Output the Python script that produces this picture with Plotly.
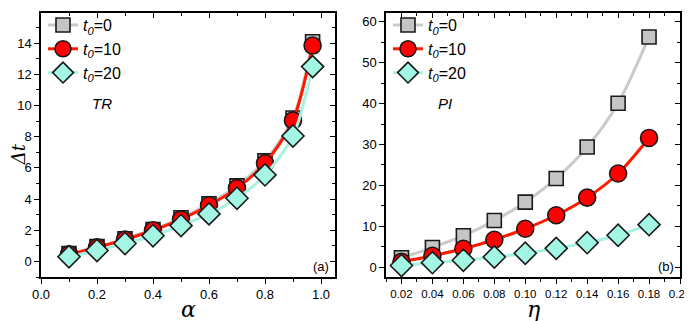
import plotly.graph_objects as go

alpha = [0.1, 0.2, 0.3, 0.4, 0.5, 0.6, 0.7, 0.8, 0.9, 0.97]
tr_t0_0 = [0.5, 0.95, 1.45, 2.05, 2.8, 3.7, 4.85, 6.45, 9.2, 14.1]
tr_t0_10 = [0.45, 0.9, 1.4, 2.0, 2.7, 3.6, 4.7, 6.3, 9.05, 13.85]
tr_t0_20 = [0.3, 0.7, 1.15, 1.65, 2.3, 3.05, 4.05, 5.55, 8.05, 12.5]

eta = [0.02, 0.04, 0.06, 0.08, 0.10, 0.12, 0.14, 0.16, 0.18]
pi_t0_0 = [2.3, 4.8, 7.7, 11.4, 15.9, 21.7, 29.4, 40.1, 56.3]
pi_t0_10 = [1.3, 2.8, 4.5, 6.7, 9.4, 12.7, 17.0, 22.9, 31.6]
pi_t0_20 = [0.4, 1.1, 1.7, 2.5, 3.4, 4.6, 6.0, 7.8, 10.4]

names = ["<i>t</i><sub><i>0</i></sub>=0", "<i>t</i><sub><i>0</i></sub>=10", "<i>t</i><sub><i>0</i></sub>=20"]

styles = [
    dict(line="#cacaca", fill="#c4c6c4", symbol="square", size=14),
    dict(line="#ff1a00", fill="#ff0000", symbol="circle", size=17),
    dict(line="#a8f2e2", fill="#a4f6e4", symbol="diamond", size=17),
]

FONT = "Liberation Sans, Arial, sans-serif"
SERIF = "DejaVu Serif, serif"

# page body has an 8px margin, so the figure is drawn 8px in from the window corner
OFF = 8
W, H = 692 - OFF, 321 - OFF
ML, MR, MT, MB = 41 - OFF, 12, 0, 44
PW, PH = W - ML - MR, H - MT - MB


def px(x):
    # screenshot x -> paper x
    return (x - OFF - ML) / PW


def py(y):
    # screenshot y -> paper y
    return 1 - (y - OFF - MT) / PH


x_range_l = [0, 1.05]
y_range_l = [-1, 15.94]
x_range_r = [0.01, 0.20]
y_range_r = [-2.4, 62.15]

fig = go.Figure()


def add_series(x, ys, xa, ya, legend):
    for name, y, st in zip(names, ys, styles):
        fig.add_trace(go.Scatter(
            x=x, y=y, name=name, mode="lines+markers",
            line=dict(color=st["line"], width=3, shape="spline", smoothing=0.8),
            marker=dict(symbol=st["symbol"], size=st["size"], color=st["fill"],
                        line=dict(color="#1a1a1a", width=1.6)),
            xaxis=xa, yaxis=ya, legend=legend))


add_series(alpha, [tr_t0_0, tr_t0_10, tr_t0_20], "x", "y", "legend")
add_series(eta, [pi_t0_0, pi_t0_10, pi_t0_20], "x2", "y2", "legend2")

dom_l = [px(41), px(335)]
dom_r = [px(386), px(680)]


def main_axis(rng, dtick, minor_dtick, font_size=13, **kw):
    return dict(range=rng, autorange=False, automargin=False, dtick=dtick, showgrid=False,
                zeroline=False, showline=True, linecolor="black", linewidth=1.5,
                ticks="outside", ticklen=5, tickwidth=1.3, tickcolor="black",
                tickfont=dict(family=FONT, size=font_size, color="black"),
                minor=dict(ticks="outside", ticklen=3, dtick=minor_dtick, tickcolor="black"),
                **kw)


def mirror_axis(rng, dtick, minor_dtick, **kw):
    return dict(range=rng, autorange=False, automargin=False, dtick=dtick, showgrid=False,
                zeroline=False, showline=True, linecolor="black", linewidth=1.5,
                ticks="inside", ticklen=5, tickwidth=1.3, tickcolor="black",
                showticklabels=False,
                minor=dict(ticks="inside", ticklen=3, dtick=minor_dtick, tickcolor="black"),
                **kw)


fig.update_layout(
    width=W, height=H,
    margin=dict(l=ML, r=MR, t=MT, b=MB),
    paper_bgcolor="white", plot_bgcolor="white",
    font=dict(family=FONT, size=13, color="black"),
    showlegend=True,
    xaxis=main_axis(x_range_l, 0.2, 0.1, domain=dom_l, anchor="y", tickformat=".1f"),
    yaxis=main_axis(y_range_l, 2, 1, domain=[0, 1], anchor="x"),
    xaxis2=main_axis(x_range_r, 0.02, 0.01, font_size=11.5, domain=dom_r, anchor="y2",
                     tick0=0.0, tickformat=".2f"),
    yaxis2=main_axis(y_range_r, 10, 5, domain=[0, 1], anchor="x2"),
    xaxis3=mirror_axis(x_range_l, 0.2, 0.1, overlaying="x", side="top", anchor="y"),
    yaxis3=mirror_axis(y_range_l, 2, 1, overlaying="y", side="right", anchor="x"),
    xaxis4=mirror_axis(x_range_r, 0.02, 0.01, overlaying="x2", side="top", anchor="y2", tick0=0.0),
    yaxis4=mirror_axis(y_range_r, 10, 5, overlaying="y2", side="right", anchor="x2"),
    legend=dict(x=px(43), y=py(3), xanchor="left", yanchor="top",
                bgcolor="rgba(0,0,0,0)", font=dict(family=FONT, size=16),
                tracegroupgap=0, itemwidth=30),
    legend2=dict(x=px(388), y=py(3), xanchor="left", yanchor="top",
                 bgcolor="rgba(0,0,0,0)", font=dict(family=FONT, size=16),
                 tracegroupgap=0, itemwidth=30),
)

# invisible traces so the mirrored axes get drawn
fig.add_trace(go.Scatter(x=[alpha[0]], y=[tr_t0_0[0]], xaxis="x3", yaxis="y3",
                         mode="markers", marker=dict(opacity=0), showlegend=False, hoverinfo="skip"))
fig.add_trace(go.Scatter(x=[eta[0]], y=[pi_t0_0[0]], xaxis="x4", yaxis="y4",
                         mode="markers", marker=dict(opacity=0), showlegend=False, hoverinfo="skip"))

# axis titles
fig.add_annotation(text="<i>α</i>", xref="paper", yref="paper", x=px(188), y=py(310),
                   xanchor="center", yanchor="middle", showarrow=False, font=dict(family=SERIF, size=22))
fig.add_annotation(text="<i>η</i>", xref="paper", yref="paper", x=px(533), y=py(310),
                   xanchor="center", yanchor="middle", showarrow=False, font=dict(family=SERIF, size=22))
fig.add_annotation(text="<i>Δt</i>", xref="paper", yref="paper", x=px(18), y=py(152),
                   xanchor="center", yanchor="middle", showarrow=False, textangle=-90,
                   font=dict(family=SERIF, size=18))

fig.add_annotation(text="<i>TR</i>", xref="paper", yref="paper", x=px(90), y=py(100),
                   xanchor="left", yanchor="middle", showarrow=False, font=dict(family=FONT, size=15))
fig.add_annotation(text="<i>PI</i>", xref="paper", yref="paper", x=px(436), y=py(100),
                   xanchor="left", yanchor="middle", showarrow=False, font=dict(family=FONT, size=15))
fig.add_annotation(text="(a)", xref="paper", yref="paper", x=px(331), y=py(266),
                   xanchor="right", yanchor="middle", showarrow=False, font=dict(family=FONT, size=13))
fig.add_annotation(text="(b)", xref="paper", yref="paper", x=px(676), y=py(266),
                   xanchor="right", yanchor="middle", showarrow=False, font=dict(family=FONT, size=13))

fig.write_html("out.html")
